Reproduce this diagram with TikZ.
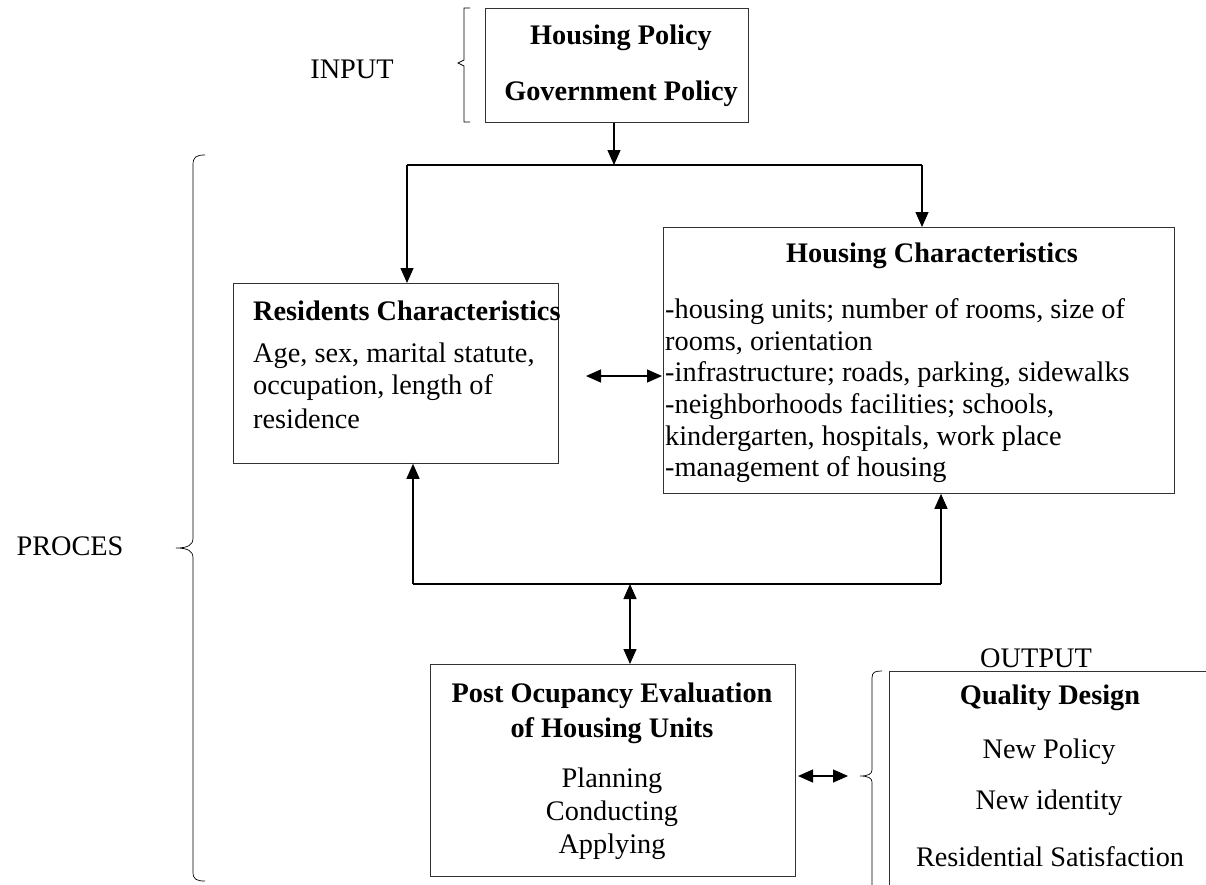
\documentclass[tikz,border=0pt]{standalone}
\usepackage{fontspec}
\setmainfont{Liberation Serif}
\usetikzlibrary{arrows.meta}
\begin{document}
\begin{tikzpicture}[x=1pt,y=-1pt,
  box/.style={draw=black!80,line width=0.8pt,inner sep=0pt,anchor=north west},
  txt/.style={inner sep=0pt,font=\fontsize{28.3}{32}\selectfont},
  btxt/.style={inner sep=0pt,font=\fontsize{28.3}{32}\selectfont\bfseries},
  ln/.style={line width=1.1pt},
  arr/.style={line width=1.3pt,-{Triangle[length=15pt,width=13pt]}},
  darr/.style={line width=1.3pt,{Triangle[length=15pt,width=13pt]}-{Triangle[length=15pt,width=13pt]}},
  brc/.style={line width=0.7pt}]
\useasboundingbox (0,0) rectangle (1206,884);
% boxes
\node[box,minimum width=263pt,minimum height=114pt] (inp) at (485,8) {};
\node[box,minimum width=325pt,minimum height=180pt] (res) at (233,283) {};
\node[box,minimum width=511pt,minimum height=266pt] (hou) at (663,227) {};
\node[box,minimum width=365pt,minimum height=212pt] (poe) at (430,664) {};
\node[box,minimum width=340pt,minimum height=230pt] (out) at (889,671) {};
% texts
\node[btxt] (t1) at (621,38) {Housing Policy};
\node[btxt] (t2) at (621,94) {Government Policy};
\node[txt] (inlab) at (352,69) {INPUT};
\node[txt] (prlab) at (70,546) {PROCES};
\node[txt] (oulab) at (1036,658) {OUTPUT};
\node[btxt,anchor=west] (r1) at (253,311) {Residents Characteristics};
\node[txt,anchor=west] (r2) at (253,356) {Age, sex, marital statute,};
\node[txt,anchor=west] (r3) at (253,388) {occupation, length of};
\node[txt,anchor=west] (r4) at (253,419) {residence};
\node[btxt] (h0) at (932,256) {Housing Characteristics};
\node[txt,anchor=west] (h1) at (665,312) {-housing units; number of rooms, size of};
\node[txt,anchor=west] (h2) at (665,343) {rooms, orientation};
\node[txt,anchor=west] (h3) at (665,375) {-infrastructure; roads, parking, sidewalks};
\node[txt,anchor=west] (h4) at (665,407) {-neighborhoods facilities; schools,};
\node[txt,anchor=west] (h5) at (665,439) {kindergarten, hospitals, work place};
\node[txt,anchor=west] (h6) at (665,470) {-management of housing};
\node[btxt] (p1) at (612,696) {Post Ocupancy Evaluation};
\node[btxt] (p2) at (612,731) {of Housing Units};
\node[txt] (p3) at (612,781) {Planning};
\node[txt] (p4) at (612,814) {Conducting};
\node[txt] (p5) at (612,847) {Applying};
\node[btxt] (o1) at (1050,698) {Quality Design};
\node[txt] (o2) at (1049,752) {New Policy};
\node[txt] (o3) at (1049,803) {New identity};
\node[txt] (o4) at (1050,857) {Residential Satisfaction};
% coordinates
\coordinate (j) at (614,165);
\coordinate (jl) at (407,165);
\coordinate (jr) at (922,165);
\coordinate (bl) at (413,584);
\coordinate (br) at (941,584);
\coordinate (bm) at (630,584);
% connectors
\draw[arr] (inp.south -| j) -- (j);
\draw[ln] (jl) -- (jr);
\draw[arr] (jl) -- (jl |- res.north);
\draw[arr] (jr) -- (jr |- hou.north);
\draw[darr] (586,376) -- (662,376);
\draw[ln] (bl) -- (br);
\draw[arr] (bl) -- (bl |- res.south);
\draw[arr] (br) -- (br |- hou.south);
\draw[darr] (bm) -- (bm |- poe.north);
\draw[darr] (798,776) -- (848,776);
% braces
\draw[brc] (470,8) -- (464,8) -- (464,60) -- (458,63) -- (464,66) -- (464,122) -- (470,122);
\draw[brc] (205,155) .. controls (196,155) and (193,157) .. (193,165) -- (193,538) .. controls (193,545) and (188,548) .. (176,548) .. controls (188,548) and (193,551) .. (193,558) -- (193,872) .. controls (193,879) and (196,881) .. (205,881);
\draw[brc] (882,671) .. controls (875,671) and (872,672) .. (872,678) -- (872,770) .. controls (872,774) and (868,776) .. (860,776) .. controls (868,776) and (872,778) .. (872,782) -- (872,890);
\end{tikzpicture}
\end{document}
